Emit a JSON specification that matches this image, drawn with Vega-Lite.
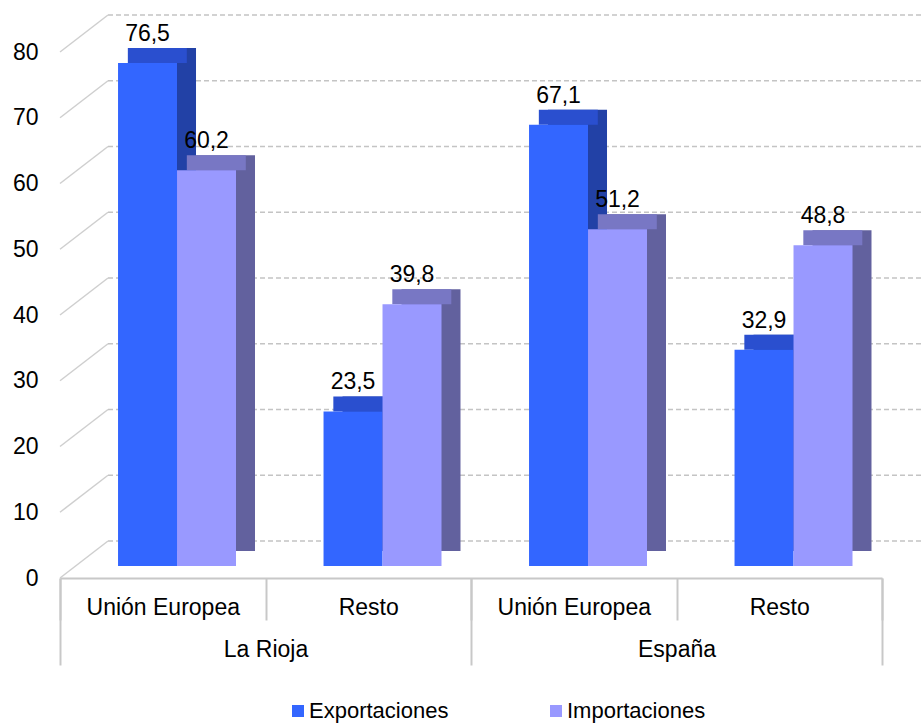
{
  "$schema": "https://vega.github.io/schema/vega-lite/v6.json",
  "width": 822,
  "height": 526,
  "autosize": {"type": "none"},
  "padding": {"left": 60, "top": 40, "right": 39, "bottom": 159},
  "background": "white",
  "config": {
    "locale": {"number": {"decimal": ",", "thousands": ".", "grouping": [3], "currency": ["", " €"]}},
    "view": {"stroke": null},
    "font": "Liberation Sans"
  },
  "datasets": {
    "bars": [
      {"region": "La Rioja", "category": "Unión Europea", "key": "La Rioja|Unión Europea", "series": "Exportaciones", "value": 76.5},
      {"region": "La Rioja", "category": "Unión Europea", "key": "La Rioja|Unión Europea", "series": "Importaciones", "value": 60.2},
      {"region": "La Rioja", "category": "Resto", "key": "La Rioja|Resto", "series": "Exportaciones", "value": 23.5},
      {"region": "La Rioja", "category": "Resto", "key": "La Rioja|Resto", "series": "Importaciones", "value": 39.8},
      {"region": "España", "category": "Unión Europea", "key": "España|Unión Europea", "series": "Exportaciones", "value": 67.1},
      {"region": "España", "category": "Unión Europea", "key": "España|Unión Europea", "series": "Importaciones", "value": 51.2},
      {"region": "España", "category": "Resto", "key": "España|Resto", "series": "Exportaciones", "value": 32.9},
      {"region": "España", "category": "Resto", "key": "España|Resto", "series": "Importaciones", "value": 48.8}
    ],
    "grid": [
      {"value": 0}, {"value": 10}, {"value": 20}, {"value": 30}, {"value": 40}, {"value": 50}, {"value": 60}, {"value": 70}, {"value": 80}
    ]
  },
  "layer": [
    {
      "encoding": {
        "y": {
          "field": "value",
          "type": "quantitative",
          "scale": {"domain": [0, 80]},
          "axis": {
            "title": null,
            "values": [0, 10, 20, 30, 40, 50, 60, 70, 80],
            "grid": false,
            "ticks": false,
            "domain": false,
            "labelPadding": 22,
            "labelOffset": 12,
            "labelFontSize": 23,
            "labelColor": "#000000",
            "labelFont": "Liberation Sans"
          }
        }
      },
      "layer": [
        {
          "data": {"name": "grid"},
          "mark": {"type": "rule", "color": "#c4c4c4", "strokeWidth": 1.5, "strokeDash": [5, 3], "xOffset": 48, "x2Offset": 48, "yOffset": -25},
          "encoding": {
            "x": {"value": 0},
            "x2": {"value": "width"}
          }
        },
        {
          "data": {"name": "grid"},
          "mark": {"type": "rule", "color": "#cfcfcf", "strokeWidth": 1.5, "yOffset": 12, "y2Offset": -25, "x2Offset": 48},
          "encoding": {
            "x": {"value": 0},
            "x2": {"value": 0},
            "y2": {"field": "value"}
          }
        },
        {
          "data": {"name": "bars"},
          "encoding": {
            "x": {
              "field": "key",
              "type": "nominal",
              "scale": {"domain": ["La Rioja|Unión Europea", "La Rioja|Resto", "España|Unión Europea", "España|Resto"], "paddingInner": 0, "paddingOuter": 0},
              "axis": {
                "orient": "bottom",
                "title": null,
                "offset": 12,
                "tickBand": "extent",
                "tickSize": 42,
                "tickColor": "#c8c8c8",
                "tickWidth": 2,
                "domainColor": "#c8c8c8",
                "domainWidth": 2,
                "labelExpr": "split(datum.label, '|')[1]",
                "labelAngle": 0,
                "labelFontSize": 23,
                "labelColor": "#000000",
                "labelPadding": -24,
                "labelFont": "Liberation Sans"
              }
            }
          },
          "layer": [
            {
              "mark": {"type": "bar", "yOffset": -15, "y2Offset": -15},
              "encoding": {
                "xOffset": {
                  "field": "series",
                  "type": "nominal",
                  "scale": {"domain": ["Exportaciones", "Importaciones"], "paddingInner": 0, "paddingOuter": 0.742, "align": 0.88}
                },
                "color": {"condition": {"test": "datum.series === 'Exportaciones'", "value": "#2241A6"}, "value": "#62619E"}
              }
            },
            {
              "mark": {"type": "bar", "yOffset": -15},
              "encoding": {
                "xOffset": {
                  "field": "series",
                  "type": "nominal",
                  "scale": {"domain": ["Exportaciones", "Importaciones"], "paddingInner": 0, "paddingOuter": 0.742, "align": 0.775}
                },
                "y2": {"field": "value"},
                "color": {"condition": {"test": "datum.series === 'Exportaciones'", "value": "#2A4FCF"}, "value": "#7877C4"}
              }
            },
            {
              "layer": [
                {
                  "mark": {"type": "bar"},
                  "encoding": {
                    "color": {
                      "field": "series",
                      "type": "nominal",
                      "scale": {"domain": ["Exportaciones", "Importaciones"], "range": ["#3366FF", "#9999FF"]},
                      "legend": {
                        "title": null,
                        "orient": "none",
                        "legendX": 227,
                        "legendY": 660,
                        "direction": "horizontal",
                        "columnPadding": 96,
                        "labelOffset": 0,
                        "symbolType": "square",
                        "symbolSize": 144,
                        "symbolStrokeWidth": 0,
                        "labelFontSize": 22,
                        "labelColor": "#000000",
                        "labelFont": "Liberation Sans",
                        "padding": 0
                      }
                    }
                  }
                },
                {
                  "mark": {"type": "text", "baseline": "bottom", "dy": -17, "fontSize": 23, "color": "#000000", "font": "Liberation Sans"},
                  "encoding": {
                    "text": {"field": "value", "type": "quantitative", "format": ".1f"}
                  }
                }
              ],
              "encoding": {
                "xOffset": {
                  "field": "series",
                  "type": "nominal",
                  "scale": {"domain": ["Exportaciones", "Importaciones"], "paddingInner": 0, "paddingOuter": 0.742, "align": 0.663}
                }
              }
            }
          ],
          "resolve": {"scale": {"xOffset": "independent"}}
        }
      ]
    },
    {
      "data": {"name": "bars"},
      "mark": {"type": "bar", "opacity": 0},
      "encoding": {
        "x": {
          "field": "region",
          "type": "nominal",
          "scale": {"type": "band", "domain": ["La Rioja", "España"], "paddingInner": 0, "paddingOuter": 0},
          "axis": {
            "orient": "bottom",
            "title": null,
            "offset": 12,
            "domain": false,
            "tickBand": "extent",
            "tickSize": 87,
            "tickColor": "#c8c8c8",
            "tickWidth": 2,
            "labelAngle": 0,
            "labelFontSize": 23,
            "labelColor": "#000000",
            "labelPadding": -27,
            "labelFont": "Liberation Sans"
          }
        }
      }
    }
  ],
  "resolve": {"scale": {"x": "independent"}, "axis": {"x": "independent"}}
}
